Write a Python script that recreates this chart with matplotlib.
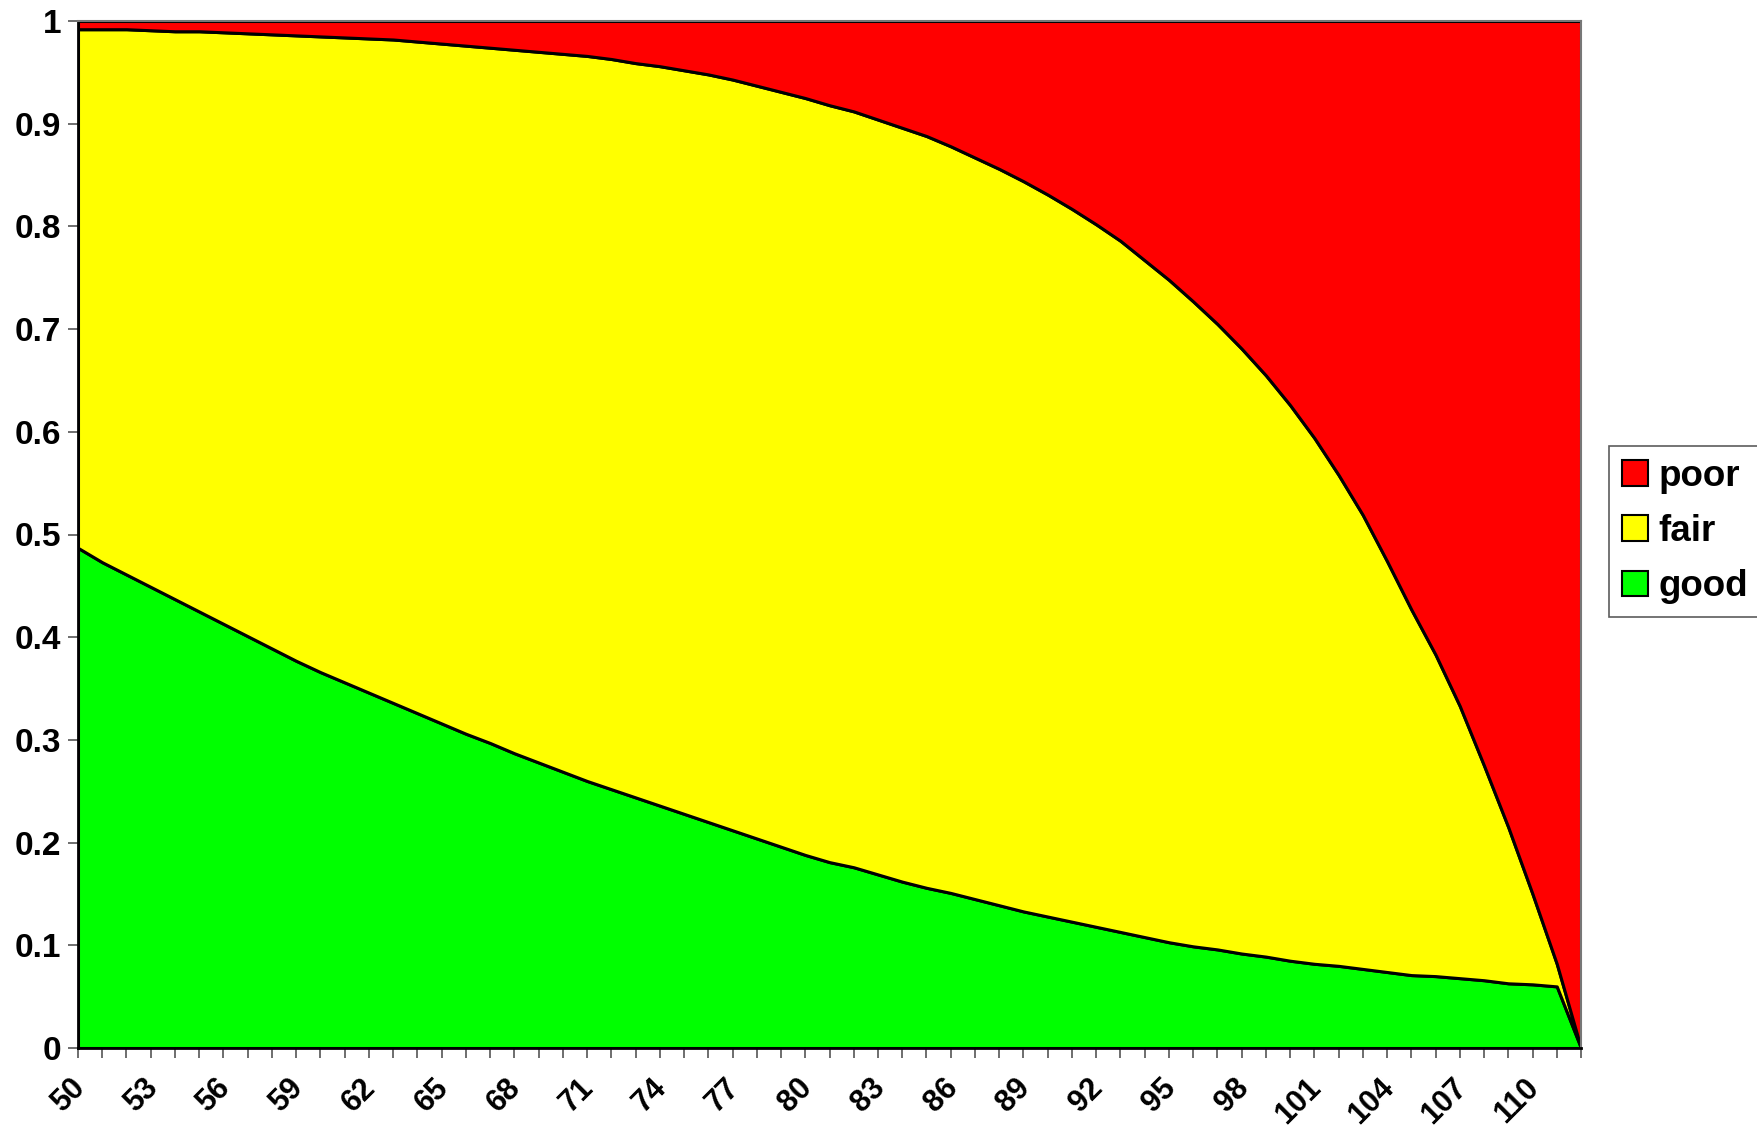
import matplotlib
matplotlib.use("Agg")
import matplotlib.pyplot as plt
from matplotlib.ticker import FuncFormatter
from matplotlib.transforms import ScaledTranslation

ages = list(range(50, 113))

good = [0.487, 0.473, 0.461, 0.449, 0.437, 0.425, 0.413, 0.401, 0.389, 0.377,
        0.366, 0.356, 0.346, 0.336, 0.326, 0.316, 0.306, 0.297, 0.287, 0.278,
        0.269, 0.260, 0.252, 0.244, 0.236, 0.228, 0.220, 0.212, 0.204, 0.196,
        0.188, 0.181, 0.176, 0.169, 0.162, 0.156, 0.151, 0.145, 0.139, 0.133,
        0.128, 0.123, 0.118, 0.113, 0.108, 0.103, 0.099, 0.096, 0.092, 0.089,
        0.085, 0.082, 0.080, 0.077, 0.074, 0.071, 0.070, 0.068, 0.066, 0.063,
        0.062, 0.060, 0.000]

fair = [0.505, 0.519, 0.531, 0.542, 0.553, 0.565, 0.576, 0.587, 0.598, 0.609,
        0.619, 0.628, 0.637, 0.646, 0.654, 0.662, 0.670, 0.677, 0.685, 0.692,
        0.699, 0.706, 0.711, 0.715, 0.720, 0.724, 0.728, 0.731, 0.733, 0.735,
        0.737, 0.737, 0.736, 0.735, 0.734, 0.732, 0.727, 0.722, 0.717, 0.711,
        0.703, 0.694, 0.684, 0.673, 0.659, 0.645, 0.628, 0.609, 0.589, 0.566,
        0.541, 0.512, 0.478, 0.442, 0.400, 0.356, 0.313, 0.265, 0.209, 0.152,
        0.088, 0.022, 0.000]

poor = [0.008, 0.008, 0.008, 0.009, 0.010, 0.010, 0.011, 0.012, 0.013, 0.014,
        0.015, 0.016, 0.017, 0.018, 0.020, 0.022, 0.024, 0.026, 0.028, 0.030,
        0.032, 0.034, 0.037, 0.041, 0.044, 0.048, 0.052, 0.057, 0.063, 0.069,
        0.075, 0.082, 0.088, 0.096, 0.104, 0.112, 0.122, 0.133, 0.144, 0.156,
        0.169, 0.183, 0.198, 0.214, 0.233, 0.252, 0.273, 0.295, 0.319, 0.345,
        0.374, 0.406, 0.442, 0.481, 0.526, 0.573, 0.617, 0.667, 0.725, 0.785,
        0.850, 0.918, 1.000]

series_names = ["good", "fair", "poor"]
series_colors = ["#00FF00", "#FFFF00", "#FF0000"]
label_ages = list(range(50, 111, 3))

plt.rcParams['font.family'] = ['Liberation Sans', 'DejaVu Sans']
plt.rcParams['font.weight'] = 'bold'

fig = plt.figure(figsize=(17.57, 11.32), dpi=100)
ax = fig.add_axes([78/1757, 1 - 1048/1132, (1581-78)/1757, (1048-21)/1132])

polys = ax.stackplot(ages, good, fair, poor, colors=series_colors,
                     labels=series_names, edgecolor="black", linewidth=2.2)

ax.set_xlim(ages[0], ages[-1])
ax.set_ylim(0, 1)

ax.set_yticks([i / 10 for i in range(11)])
ax.yaxis.set_major_formatter(FuncFormatter(lambda v, p: f"{v:g}"))
ax.set_xticks(ages)
ax.set_xticklabels([str(a) if a in label_ages else "" for a in ages],
                   rotation=45, ha="right", rotation_mode="anchor")

ax.tick_params(axis="both", direction="out", length=7, width=1.2,
               color="#555555")
ax.tick_params(axis="y", labelsize=24, pad=5)
ax.tick_params(axis="x", labelsize=22, pad=11)
for lab in ax.get_xticklabels() + ax.get_yticklabels():
    lab.set_fontweight("bold")
shift = ScaledTranslation(-6/72, 0, fig.dpi_scale_trans)
for lab in ax.get_xticklabels():
    lab.set_transform(lab.get_transform() + shift)

for side in ["left", "bottom"]:
    ax.spines[side].set_color("black")
    ax.spines[side].set_linewidth(2)
for side in ["top", "right"]:
    ax.spines[side].set_color("#777777")
    ax.spines[side].set_linewidth(1.5)

handles, labels = ax.get_legend_handles_labels()
leg = fig.legend(handles[::-1], labels[::-1], loc="upper left",
                 bbox_to_anchor=(1609/1757, 1 - 446/1132),
                 prop={"size": 26.5, "weight": "bold"},
                 frameon=True, fancybox=False, shadow=False,
                 handlelength=0.7, handleheight=0.7, handletextpad=0.3,
                 labelspacing=0.55, borderpad=0.35, borderaxespad=0)
leg.get_frame().set_edgecolor("#333333")
leg.get_frame().set_linewidth(1.2)
for h in leg.legend_handles:
    h.set_edgecolor("black")
    h.set_linewidth(1.5)

fig.savefig("out.png", dpi=100, facecolor="white")
